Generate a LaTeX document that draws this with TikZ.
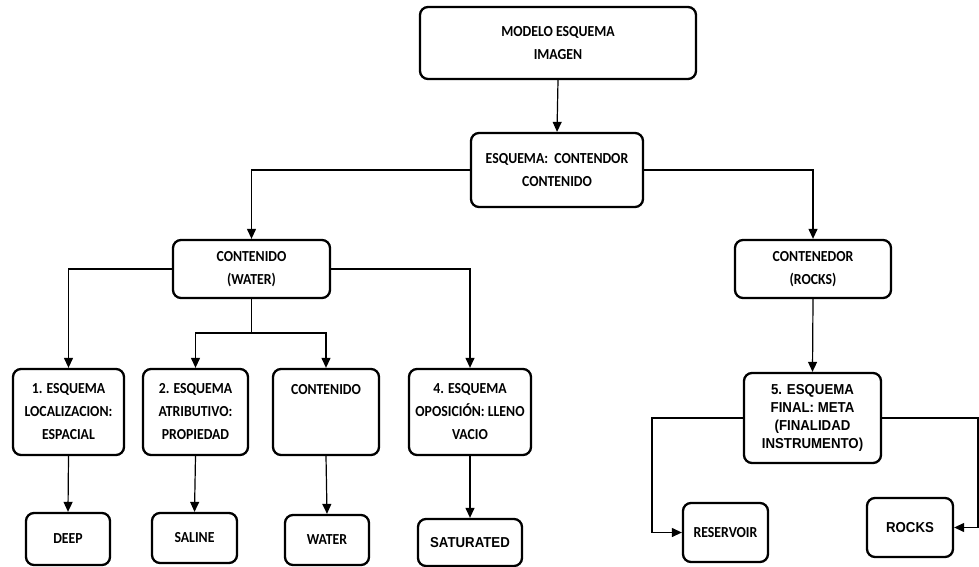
\documentclass[tikz,border=0pt]{standalone}
\usepackage{fontspec}
\setmainfont{Carlito}[FakeStretch=0.9]
\newfontfamily\arialfont{Liberation Sans}[FakeStretch=0.92]
\usetikzlibrary{arrows.meta}
\begin{document}
\begin{tikzpicture}[x=1pt,y=-1pt,
  box/.style={draw, line width=2.3pt, rounded corners=8pt, inner sep=0pt,
    align=center, font=\bfseries\fontsize{15.3}{23}\selectfont},
  narrowbox/.style={box, font=\arialfont\bfseries\fontsize{14.4}{18.3}\selectfont},
  conn/.style={line width=1.2pt},
  arr/.style={conn, -{Triangle[length=10pt,width=9pt]}}]
\useasboundingbox (0,0) rectangle (979,567);

% level 0 and 1
\node[box, minimum width=276pt, minimum height=72pt] (top) at (558,43)
  {MODELO ESQUEMA\\IMAGEN};
\node[box, minimum width=172pt, minimum height=74pt] (esq) at (557,170)
  {ESQUEMA:\ \ CONTENDOR\\CONTENIDO};

% level 2
\node[box, minimum width=157pt, minimum height=58pt] (cont) at (251.5,269)
  {CONTENIDO\\(WATER)};
\node[box, minimum width=156pt, minimum height=58pt] (cned) at (813,269)
  {CONTENEDOR\\(ROCKS)};

% level 3 (left branch)
\node[box, minimum width=111pt, minimum height=86pt] (b1) at (68.5,412)
  {1. ESQUEMA\\LOCALIZACION:\\ESPACIAL};
\node[box, minimum width=105pt, minimum height=86pt] (b2) at (195.5,412)
  {2. ESQUEMA\\ATRIBUTIVO:\\PROPIEDAD};
\node[box, minimum width=106pt, minimum height=86pt] (b3) at (326,412)
  {CONTENIDO\\\mbox{}\\\mbox{}};
\node[box, minimum width=122pt, minimum height=86pt] (b4) at (470,412)
  {4. ESQUEMA\\OPOSICIÓN: LLENO\\VACIO};

% level 3 (right branch)
\node[narrowbox, minimum width=137pt, minimum height=90pt] (b5) at (812.5,418)
  {5. ESQUEMA\\FINAL: META\\(FINALIDAD\\INSTRUMENTO)};

% leaves
\node[box, minimum width=84pt, minimum height=52pt] (deep) at (68,539) {DEEP};
\node[box, minimum width=85pt, minimum height=50pt] (saline) at (194.5,538) {SALINE};
\node[box, minimum width=84pt, minimum height=50pt] (water) at (327,540) {WATER};
\node[narrowbox, minimum width=104pt, minimum height=47pt] (sat) at (470,542.5) {SATURATED};
\node[box, minimum width=85pt, minimum height=59pt] (res) at (725.5,532.5) {RESERVOIR};
\node[narrowbox, minimum width=86pt, minimum height=59pt] (rocks) at (910,527.5) {ROCKS};

% bend points
\coordinate (split) at (251.5,333);
\coordinate (lcorner) at (652,418);
\coordinate (rcorner) at (978,418);

% connectors
\draw[arr] (top.south) -- (esq.north);
\draw[arr] (esq.west) -| (cont.north);
\draw[arr] (esq.east) -| (cned.north);
\draw[arr] (cont.west) -| (b1.north);
\draw[arr] (cont.east) -| (b4.north);
\draw[conn] (cont.south) -- (split);
\draw[arr] (split) -| (b2.north);
\draw[arr] (split) -| (b3.north);
\draw[arr] (b1.south) -- (deep.north);
\draw[arr] (b2.south) -- (saline.north);
\draw[arr] (b3.south) -- (water.north);
\draw[arr] (b4.south) -- (sat.north);
\draw[arr] (cned.south) -- (b5.north);
\draw[arr] (b5.west) -- (lcorner) |- (res.west);
\draw[arr] (b5.east) -- (rcorner) |- (rocks.east);
\end{tikzpicture}
\end{document}
